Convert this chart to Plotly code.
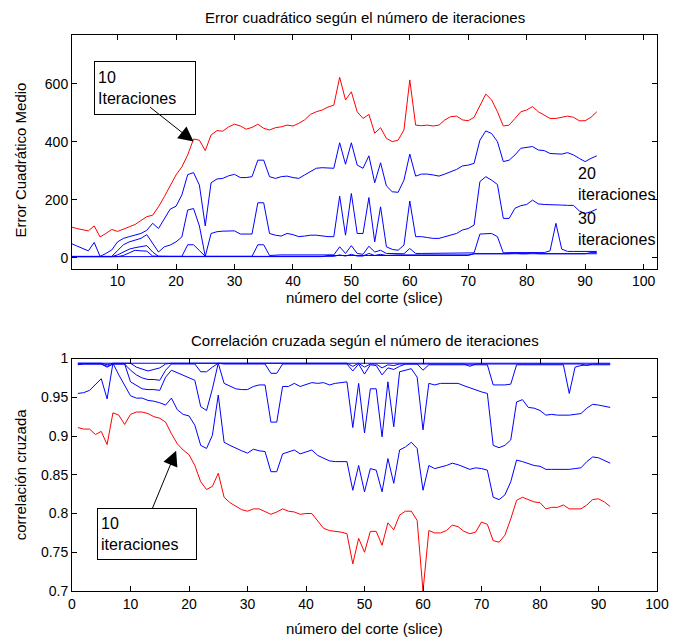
import plotly.graph_objects as go

slices = list(range(1, 93))

# ---- Error cuadrático medio (top) ----
err10 = [107,107,101,98,93,110,72,84,98,91, 98,107,115,128,142,147,176,211,251,286,
         314,355,410,406,370,424,439,437,452,461, 455,444,450,461,447,441,449,452,458,455,
         464,476,495,504,510,520,527,623,545,573, 504,481,495,430,449,412,401,406,441,614,
         458,456,458,455,458,476,487,489,476,473, 485,527,565,545,504,455,458,481,504,510,
         522,504,493,481,481,485,489,485,473,473, 485,504]
err20 = [50,50,41,32,24,53,5,15,27,55, 67,73,78,84,95,119,101,133,168,178,
         217,287,294,251,110,259,272,274,283,288, 277,277,280,337,337,280,274,280,282,277,
         274,286,297,309,311,311,309,397,323,397, 320,309,352,259,328,248,228,226,268,358,
         282,289,289,286,282,289,297,305,317,320, 326,406,438,429,401,332,337,355,378,381,
         384,372,370,360,358,358,363,355,343,332, 343,352]
err30 = [5,5,5,5,5,6,5,5,5,25, 45,55,60,67,80,50,20,38,44,55,
         72,165,170,110,5,84,90,92,93,93, 82,82,82,190,190,84,78,75,84,80,
         73,75,78,78,75,73,73,213,78,222, 84,84,208,55,176,38,29,26,44,196,
         73,73,70,67,67,73,78,84,96,101, 113,263,280,268,253,136,136,171,180,184,
         199,186,184,184,182,182,181,181,162,153, 159,168]
err40 = [4,4,4,4,4,4,4,4,4,10, 21,30,35,38,42,20,5,5,5,5,
         5,45,45,25,5,5,5,5,5,5, 5,5,5,45,45,8,10,10,10,10,
         10,10,10,10,10,10,10,38,15,42, 15,12,40,20,26,15,14,14,14,32,
         15,15,15,15,15,15,15,15,15,15, 17,82,82,84,73,17,18,18,18,18,
         18,18,18,24,119,30,22,22,22,22, 22,22]
err50 = [4,4,4,4,4,4,4,4,4,4, 8,17,26,24,23,6,5,5,5,5,
         5,5,5,5,5,5,5,5,5,5, 5,5,5,5,5,5,5,5,5,5,
         5,5,5,5,5,5,5,10,6,12, 6,6,15,8,12,8,10,10,10,10,
         10,10,10,10,10,10,10,10,10,10, 14,14,14,14,14,14,14,17,14,14,
         18,14,14,14,14,14,14,14,14,14, 18,18]
err60 = [4,4,4,4,4,4,4,4,4,4, 4,4,4,4,4,4,4,4,4,4,
         4,4,4,4,4,4,4,4,4,4, 4,4,4,4,4,4,4,4,4,4,
         4,4,4,4,4,8,8,8,8,8, 8,8,8,8,8,8,8,8,8,8,
         8,8,8,8,8,8,8,8,8,8, 14,14,14,14,14,14,14,14,14,14,
         14,14,14,14,14,14,14,14,14,14, 14,14]

# ---- Correlación cruzada (bottom) ----
cc10 = [.911,.909,.909,.902,.906,.889,.930,.927,.915,.928, .931,.931,.929,.925,.923,.918,.903,.890,.882,.876,
        .862,.841,.831,.835,.852,.821,.814,.809,.805,.803, .806,.806,.802,.799,.802,.806,.803,.802,.799,.800,
        .800,.791,.781,.778,.777,.776,.774,.735,.768,.750, .777,.777,.759,.788,.779,.798,.803,.803,.791,.700,
        .778,.775,.775,.778,.785,.783,.777,.774,.776,.789, .786,.765,.763,.772,.793,.817,.821,.818,.815,.814,
        .806,.808,.808,.811,.806,.806,.806,.811,.818,.819, .815,.809]
cc20 = [.955,.956,.959,.966,.974,.948,.994,.979,.966,.952, .949,.949,.946,.945,.943,.940,.949,.934,.928,.926,
        .914,.888,.884,.901,.953,.892,.888,.884,.881,.878, .883,.881,.880,.854,.854,.877,.880,.882,.877,.880,
        .882,.875,.871,.868,.867,.867,.867,.830,.862,.828, .858,.856,.828,.871,.839,.882,.886,.892,.884,.830,
        .862,.858,.860,.862,.865,.863,.860,.857,.859,.858, .856,.821,.818,.824,.841,.869,.867,.864,.862,.861,
        .857,.857,.857,.857,.857,.858,.859,.867,.873,.872, .869,.865]
cc30 = [.992,.993,.993,.993,.993,.989,.993,.993,.993,.970, .966,.961,.960,.960,.959,.976,.985,.982,.979,.976,
        .972,.938,.933,.961,.994,.968,.964,.961,.960,.960, .964,.966,.966,.918,.918,.964,.964,.968,.964,.966,
        .969,.968,.969,.966,.968,.969,.970,.911,.968,.904, .961,.961,.899,.970,.912,.983,.985,.987,.976,.908,
        .968,.966,.968,.968,.968,.968,.965,.962,.959,.957, .955,.888,.885,.888,.895,.944,.947,.937,.936,.933,
        .927,.928,.927,.927,.927,.928,.929,.936,.941,.940, .938,.937]
cc40 = [.993,.993,.993,.993,.993,.990,.993,.993,.993,.985, .979,.975,.973,.973,.972,.985,.993,.993,.993,.993,
        .993,.983,.983,.989,.994,.993,.993,.993,.993,.993, .993,.993,.993,.981,.981,.993,.993,.993,.993,.993,
        .993,.993,.993,.993,.993,.993,.993,.984,.993,.980, .992,.991,.979,.988,.986,.990,.993,.993,.993,.985,
        .992,.992,.992,.992,.992,.992,.992,.992,.992,.992, .992,.966,.966,.966,.967,.992,.992,.992,.992,.992,
        .992,.992,.992,.992,.955,.989,.991,.992,.992,.992, .992,.992]
cc50 = [.994,.994,.994,.994,.994,.992,.994,.994,.994,.994, .989,.986,.984,.986,.988,.993,.994,.994,.994,.994,
        .994,.994,.994,.994,.994,.994,.994,.994,.994,.994, .994,.994,.994,.994,.994,.994,.994,.994,.994,.994,
        .994,.994,.994,.994,.994,.994,.994,.990,.994,.989, .993,.993,.988,.992,.991,.993,.993,.993,.993,.993,
        .993,.993,.993,.993,.993,.993,.993,.990,.993,.993, .993,.993,.993,.993,.993,.993,.993,.993,.993,.993,
        .993,.993,.993,.993,.993,.993,.993,.991,.993,.993, .993,.993]
cc60 = [.994] * 92

top_yticks = [0, 200, 400, 600]
xticks = [0, 10, 20, 30, 40, 50, 60, 70, 80, 90, 100]
bot_yticks = [0.7, 0.75, 0.8, 0.85, 0.9, 0.95, 1]

RED = "#ff0000"
BLUE = "#0000ff"
FONT = "Liberation Sans, Arial, sans-serif"

fig = go.Figure()
for ys, col in [(err10, RED), (err20, BLUE), (err30, BLUE), (err40, BLUE), (err50, BLUE), (err60, BLUE)]:
    fig.add_trace(go.Scatter(x=slices, y=ys, mode="lines", line=dict(color=col, width=1),
                             xaxis="x", yaxis="y", showlegend=False, hoverinfo="skip"))
for ys, col in [(cc10, RED), (cc20, BLUE), (cc30, BLUE), (cc40, BLUE), (cc50, BLUE), (cc60, BLUE)]:
    fig.add_trace(go.Scatter(x=slices, y=ys, mode="lines", line=dict(color=col, width=1),
                             xaxis="x2", yaxis="y2", showlegend=False, hoverinfo="skip"))

axis_common = dict(showline=True, linecolor="black", linewidth=1, mirror="ticks",
                   ticks="inside", ticklen=5, tickcolor="black", showgrid=False,
                   zeroline=False, tickfont=dict(family=FONT, size=14, color="black"))

fig.update_layout(
    width=681, height=639, autosize=False,
    margin=dict(l=72, r=13, t=35, b=48),
    paper_bgcolor="white", plot_bgcolor="white",
    font=dict(family=FONT, size=15, color="black"),
    xaxis=dict(domain=[0, 1], anchor="y", range=[2.2, 102.3], tickvals=xticks[1:], **axis_common),
    yaxis=dict(domain=[0.580, 1], anchor="x", range=[-37, 769], tickvals=top_yticks, **axis_common),
    xaxis2=dict(domain=[0, 1], anchor="y2", range=[0, 100], tickvals=xticks, **axis_common),
    yaxis2=dict(domain=[0, 0.418], anchor="x2", range=[0.7, 1.0], tickvals=bot_yticks, **axis_common),
)

ann = []
# titles
ann.append(dict(text="Error cuadrático según el número de iteraciones", xref="paper", yref="paper",
                x=0.5, y=1.032, xanchor="center", yanchor="middle", showarrow=False, font=dict(size=15)))
ann.append(dict(text="Correlación cruzada según el número de iteraciones", xref="paper", yref="paper",
                x=0.5, y=0.451, xanchor="center", yanchor="middle", showarrow=False, font=dict(size=15)))
# x labels
ann.append(dict(text="número del corte (slice)", xref="paper", yref="paper",
                x=0.5, y=0.527, xanchor="center", yanchor="middle", showarrow=False, font=dict(size=15)))
ann.append(dict(text="número del corte (slice)", xref="paper", yref="paper",
                x=0.5, y=-0.067, xanchor="center", yanchor="middle", showarrow=False, font=dict(size=15)))
# y labels
ann.append(dict(text="Error Cuadrático Medio", xref="paper", yref="paper", textangle=-90,
                x=-0.088, y=0.775, xanchor="center", yanchor="middle", showarrow=False, font=dict(size=15)))
ann.append(dict(text="correlación cruzada", xref="paper", yref="paper", textangle=-90,
                x=-0.088, y=0.209, xanchor="center", yanchor="middle", showarrow=False, font=dict(size=15)))
# boxes
ann.append(dict(text="10<br>Iteraciones", xref="x", yref="y", x=5.9, y=679, xanchor="left", yanchor="top",
                showarrow=False, align="left", bordercolor="black", borderwidth=1, bgcolor="white",
                borderpad=3, width=94, height=46, font=dict(size=16)))
ann.append(dict(text="", xref="x", yref="y", x=23.0, y=401, axref="x", ayref="y", ax=15.3, ay=524,
                showarrow=True, arrowhead=2, arrowsize=3, arrowwidth=1, arrowcolor="black", standoff=0))
ann.append(dict(text="10<br>iteraciones", xref="x2", yref="y2", x=4.2, y=0.8065, xanchor="left", yanchor="top",
                showarrow=False, align="left", bordercolor="black", borderwidth=1, bgcolor="white",
                borderpad=3, width=92, height=44, font=dict(size=16)))
ann.append(dict(text="", xref="x2", yref="y2", x=17.8, y=0.881, axref="x2", ayref="y2", ax=13.6, ay=0.804,
                showarrow=True, arrowhead=2, arrowsize=3, arrowwidth=1, arrowcolor="black", standoff=0))
# series labels
ann.append(dict(text="20<br>iteraciones", xref="x", yref="y", x=88.4, y=327, xanchor="left", yanchor="top",
                showarrow=False, align="left", font=dict(size=16)))
ann.append(dict(text="30<br>iteraciones", xref="x", yref="y", x=88.4, y=172, xanchor="left", yanchor="top",
                showarrow=False, align="left", font=dict(size=16)))

fig.update_layout(annotations=ann)
fig.write_html("out.html", config={"displayModeBar": False},
               post_script="document.body.style.margin='0';document.body.style.padding='0';")
